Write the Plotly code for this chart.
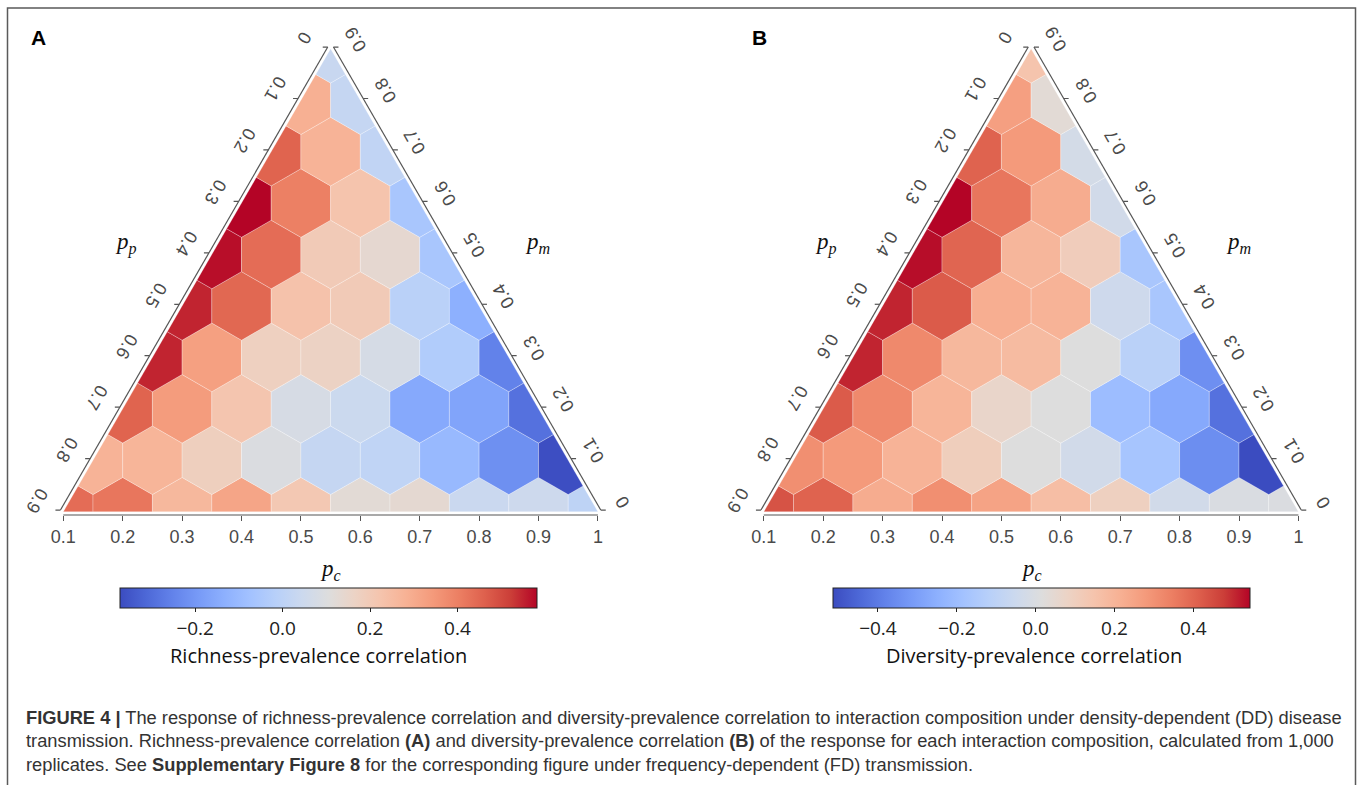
import math
import plotly.graph_objects as go
from plotly.colors import sample_colorscale

# ----------------------------- data -----------------------------
PC_TICKS = [0.1, 0.2, 0.3, 0.4, 0.5, 0.6, 0.7, 0.8, 0.9, 1.0]
PC_TICKTEXT = ["0.1", "0.2", "0.3", "0.4", "0.5", "0.6", "0.7", "0.8", "0.9", "1"]
PP_TICKS = [0.0, 0.1, 0.2, 0.3, 0.4, 0.5, 0.6, 0.7, 0.8, 0.9]
PP_TICKTEXT = ["0", "0.1", "0.2", "0.3", "0.4", "0.5", "0.6", "0.7", "0.8", "0.9"]
PM_TICKS = [0.0, 0.1, 0.2, 0.3, 0.4, 0.5, 0.6, 0.7, 0.8, 0.9]
PM_TICKTEXT = ["0", "0.1", "0.2", "0.3", "0.4", "0.5", "0.6", "0.7", "0.8", "0.9"]

# Richness-prevalence correlation; one list per p_m level, left to right = increasing p_c
RICH_PM0 = [0.439, 0.420, 0.262, 0.315, 0.210, 0.124, 0.134, 0.038, 0.048, 0.005]
RICH_PM1 = [0.277, 0.272, 0.181, 0.095, 0.024, 0.010, -0.105, -0.219, -0.367]
RICH_PM2 = [0.456, 0.339, 0.219, 0.081, 0.043, -0.153, -0.167, -0.291]
RICH_PM3 = [0.549, 0.329, 0.177, 0.167, 0.076, -0.033, -0.253]
RICH_PM4 = [0.549, 0.448, 0.229, 0.200, -0.009, -0.133]
RICH_PM5 = [0.572, 0.439, 0.200, 0.138, -0.057]
RICH_PM6 = [0.582, 0.401, 0.224, -0.057]
RICH_PM7 = [0.456, 0.277, 0.014]
RICH_PM8 = [0.286, 0.024]
RICH_PM9 = [0.033]

# Diversity-prevalence correlation; same layout
DIV_PM0 = [0.438, 0.406, 0.227, 0.306, 0.253, 0.168, 0.094, -0.033, 0.000, 0.004]
DIV_PM1 = [0.306, 0.280, 0.205, 0.105, 0.015, -0.033, -0.170, -0.350, -0.514]
DIV_PM2 = [0.422, 0.322, 0.200, 0.068, 0.015, -0.202, -0.271, -0.424]
DIV_PM3 = [0.507, 0.322, 0.190, 0.179, 0.015, -0.112, -0.345]
DIV_PM4 = [0.507, 0.422, 0.221, 0.205, -0.043, -0.165]
DIV_PM5 = [0.534, 0.401, 0.195, 0.110, -0.165]
DIV_PM6 = [0.544, 0.364, 0.227, -0.033]
DIV_PM7 = [0.406, 0.280, -0.022]
DIV_PM8 = [0.264, 0.036]
DIV_PM9 = [0.147]

RICH_RANGE = [-0.372, 0.582]
DIV_RANGE = [-0.514, 0.544]
RICH_CB_TICKS = [-0.2, 0.0, 0.2, 0.4]
RICH_CB_TEXT = ["\u22120.2", "0.0", "0.2", "0.4"]
DIV_CB_TICKS = [-0.4, -0.2, 0.0, 0.2, 0.4]
DIV_CB_TEXT = ["\u22120.4", "\u22120.2", "0.0", "0.2", "0.4"]

RICH_TITLE = "Richness-prevalence correlation"
DIV_TITLE = "Diversity-prevalence correlation"

# matplotlib "coolwarm" colormap
COOLWARM = [
    [0.0, "rgb(59,76,192)"], [0.0625, "rgb(77,104,215)"], [0.125, "rgb(98,130,234)"],
    [0.1875, "rgb(119,154,247)"], [0.25, "rgb(141,176,254)"], [0.3125, "rgb(163,194,255)"],
    [0.375, "rgb(184,208,249)"], [0.4375, "rgb(204,217,238)"], [0.5, "rgb(221,221,221)"],
    [0.5625, "rgb(236,211,197)"], [0.625, "rgb(245,196,173)"], [0.6875, "rgb(247,177,148)"],
    [0.75, "rgb(244,154,123)"], [0.8125, "rgb(236,127,99)"], [0.875, "rgb(222,96,77)"],
    [0.9375, "rgb(203,62,56)"], [1.0, "rgb(180,4,38)"],
]

# ----------------------------- layout constants -----------------------------
W, H = 1358, 785
S = 594.0            # pixels per composition unit
Y0 = 511.7           # pixel row of triangle base
XR = [0.0, 1.1]
YR = [-0.13, 0.83]
SQ3 = math.sqrt(3.0)
HEX_W = 0.1
HEX_R = HEX_W / SQ3
GAP = 3.3 / S
STUB = 5.0 / S
AXIS_COL = "#555555"
LABEL_COL = "#4a4a4a"
TICK_FONT = dict(family="Liberation Sans, Arial, sans-serif", size=18, color=LABEL_COL)
MATH_FONT = dict(family="Liberation Serif, Times New Roman, serif", size=23, color="#111111")


def to_xy(pc, pm):
    return pc + pm / 2.0, pm * SQ3 / 2.0


TRI = [to_xy(0.1, 0.0), to_xy(1.0, 0.0), to_xy(0.1, 0.9)]


def clip_poly(poly, clip):
    out = list(poly)
    n = len(clip)
    for i in range(n):
        A = clip[i]
        B = clip[(i + 1) % n]
        inp, out = out, []
        if not inp:
            break

        def inside(P):
            return (B[0] - A[0]) * (P[1] - A[1]) - (B[1] - A[1]) * (P[0] - A[0]) >= -1e-12

        def inter(P, Q):
            dx, dy = Q[0] - P[0], Q[1] - P[1]
            ex, ey = B[0] - A[0], B[1] - A[1]
            den = dx * ey - dy * ex
            t = ((A[0] - P[0]) * ey - (A[1] - P[1]) * ex) / den
            return (P[0] + t * dx, P[1] + t * dy)

        Sp = inp[-1]
        for E in inp:
            if inside(E):
                if not inside(Sp):
                    out.append(inter(Sp, E))
                out.append(E)
            elif inside(Sp):
                out.append(inter(Sp, E))
            Sp = E
    return out


def hexagon(cx, cy):
    pts = []
    for a in (90, 150, 210, 270, 330, 30):
        r = math.radians(a)
        pts.append((cx + HEX_R * math.cos(r), cy + HEX_R * math.sin(r)))
    return pts


PANELS = [
    dict(rows=[RICH_PM0, RICH_PM1, RICH_PM2, RICH_PM3, RICH_PM4, RICH_PM5, RICH_PM6, RICH_PM7, RICH_PM8, RICH_PM9],
         rng=RICH_RANGE, cbt=RICH_CB_TICKS, cbtx=RICH_CB_TEXT, title=RICH_TITLE, letter="A",
         x0=63.3, cb_x=328.5, title_x=318.0, letter_x=38.5),
    dict(rows=[DIV_PM0, DIV_PM1, DIV_PM2, DIV_PM3, DIV_PM4, DIV_PM5, DIV_PM6, DIV_PM7, DIV_PM8, DIV_PM9],
         rng=DIV_RANGE, cbt=DIV_CB_TICKS, cbtx=DIV_CB_TEXT, title=DIV_TITLE, letter="B",
         x0=763.8, cb_x=1041.5, title_x=1034.0, letter_x=759.0),
]

fig = go.Figure()
annotations = []
layout_axes = {}

for pi, P in enumerate(PANELS):
    sfx = "" if pi == 0 else str(pi + 1)
    xref, yref = "x" + sfx, "y" + sfx
    vmin, vmax = P["rng"]

    # axes / domains
    left_px = P["x0"] + (XR[0] - 0.1) * S
    right_px = P["x0"] + (XR[1] - 0.1) * S
    bot_px = Y0 - YR[0] * S
    top_px = Y0 - YR[1] * S
    layout_axes["xaxis" + sfx] = dict(
        domain=[left_px / W, min(right_px / W, 1.0)], range=XR, anchor="free",
        position=1 - (Y0 + GAP * S) / H,
        tickmode="array", tickvals=PC_TICKS, ticktext=PC_TICKTEXT,
        ticks="outside", ticklen=5, tickwidth=1.2, tickcolor=AXIS_COL,
        tickfont=TICK_FONT, showgrid=False, zeroline=False, showline=False,
        fixedrange=True,
    )
    layout_axes["yaxis" + sfx] = dict(
        domain=[1 - bot_px / H, 1 - top_px / H], range=YR, visible=False, fixedrange=True,
    )

    # hexes
    cxs, cys, vals = [], [], []
    for k, row in enumerate(P["rows"]):
        pm = 0.1 * k
        for j, v in enumerate(row):
            pc = 0.1 + 0.1 * j
            cx, cy = to_xy(pc, pm)
            poly = clip_poly(hexagon(cx, cy), TRI)
            frac = (v - vmin) / (vmax - vmin)
            frac = min(max(frac, 0.0), 1.0)
            col = sample_colorscale(COOLWARM, [frac])[0]
            xs = [p[0] for p in poly] + [poly[0][0]]
            ys = [p[1] for p in poly] + [poly[0][1]]
            fig.add_trace(go.Scatter(
                x=xs, y=ys, mode="lines", fill="toself", fillcolor=col,
                line=dict(color="rgba(255,255,255,0.45)", width=0.6),
                hoverinfo="skip", showlegend=False, xaxis=xref, yaxis=yref,
            ))
            cxs.append(cx)
            cys.append(cy)
            vals.append(v)

    # colorbar carrier (invisible markers at hex centres)
    fig.add_trace(go.Scatter(
        x=cxs, y=cys, mode="markers", xaxis=xref, yaxis=yref, showlegend=False,
        hoverinfo="skip",
        marker=dict(size=1, opacity=0, color=vals, colorscale=COOLWARM, cmin=vmin, cmax=vmax,
                    showscale=True, line=dict(width=0),
                    colorbar=dict(orientation="h", x=P["cb_x"] / W, xanchor="center",
                                  y=1 - 588.0 / H, yanchor="top", len=417.0 / W,
                                  lenmode="fraction", thickness=20, xpad=0, ypad=0,
                                  outlinewidth=1, outlinecolor="#222222",
                                  tickmode="array", tickvals=P["cbt"], ticktext=P["cbtx"],
                                  ticks="outside", ticklen=4, tickcolor="#222222",
                                  tickfont=dict(family="Open Sans, sans-serif", size=19,
                                                color="#222222"))),
    ))

    # side axes (p_p on the left, p_m on the right) and bottom base line
    T = TRI[2]
    BL = TRI[0]
    BR = TRI[1]
    nL = (-SQ3 / 2.0, 0.5)
    nR = (SQ3 / 2.0, 0.5)
    lx, ly = [], []
    lx += [T[0] + GAP * nL[0], BL[0] + GAP * nL[0], None]
    ly += [T[1] + GAP * nL[1], BL[1] + GAP * nL[1], None]
    lx += [T[0] + GAP * nR[0], BR[0] + GAP * nR[0], None]
    ly += [T[1] + GAP * nR[1], BR[1] + GAP * nR[1], None]
    lx += [PC_TICKS[0], PC_TICKS[-1], None]
    ly += [-GAP, -GAP, None]
    for v, t in zip(PP_TICKS, PP_TICKTEXT):
        ex, ey = to_xy(0.1, 0.9 - v)
        px_, py_ = ex + GAP * nL[0], ey + GAP * nL[1]
        lx += [px_, px_ - STUB, None]
        ly += [py_, py_, None]
        annotations.append(dict(x=ex - 26.0 / S, y=ey + 11.0 / S, xref=xref, yref=yref,
                                text=t, showarrow=False, textangle=120,
                                xanchor="center", yanchor="middle", font=TICK_FONT))
    for v, t in zip(PM_TICKS, PM_TICKTEXT):
        ex, ey = to_xy(1.0 - v, v)
        px_, py_ = ex + GAP * nR[0], ey + GAP * nR[1]
        lx += [px_, px_ + STUB, None]
        ly += [py_, py_, None]
        annotations.append(dict(x=ex + 25.0 / S, y=ey + 9.5 / S, xref=xref, yref=yref,
                                text=t, showarrow=False, textangle=-120,
                                xanchor="center", yanchor="middle", font=TICK_FONT))
    fig.add_trace(go.Scatter(x=lx, y=ly, mode="lines", line=dict(color=AXIS_COL, width=1.2),
                             hoverinfo="skip", showlegend=False, xaxis=xref, yaxis=yref))

    # axis titles
    annotations.append(dict(x=T[0] - 205.0 / S, y=(Y0 - 243.0) / S, xref=xref, yref=yref,
                            text="<i>p</i><sub><i>p</i></sub>", showarrow=False,
                            font=MATH_FONT))
    annotations.append(dict(x=T[0] + 207.0 / S, y=(Y0 - 243.0) / S, xref=xref, yref=yref,
                            text="<i>p</i><sub><i>m</i></sub>", showarrow=False,
                            font=MATH_FONT))
    annotations.append(dict(x=T[0], y=(Y0 - 570.0) / S, xref=xref, yref=yref,
                            text="<i>p</i><sub><i>c</i></sub>", showarrow=False,
                            font=MATH_FONT))

    # colorbar title and panel letter
    annotations.append(dict(x=P["title_x"] / W, y=1 - 655.0 / H, xref="paper", yref="paper",
                            text=P["title"], showarrow=False, xanchor="center", yanchor="middle",
                            font=dict(family="Open Sans, sans-serif", size=20, color="#111111")))
    annotations.append(dict(x=P["letter_x"] / W, y=1 - 38.0 / H, xref="paper", yref="paper",
                            text="<b>" + P["letter"] + "</b>", showarrow=False,
                            xanchor="center", yanchor="middle",
                            font=dict(family="Liberation Sans, Arial, sans-serif", size=21,
                                      color="#000000")))

# caption
CAPTION = [
    "<b>FIGURE 4 |</b> The response of richness-prevalence correlation and diversity-prevalence "
    "correlation to interaction composition under density-dependent (DD) disease",
    "transmission. Richness-prevalence correlation <b>(A)</b> and diversity-prevalence correlation "
    "<b>(B)</b> of the response for each interaction composition, calculated from 1,000",
    "replicates. See <b>Supplementary Figure 8</b> for the corresponding figure under "
    "frequency-dependent (FD) transmission.",
]
for i, line in enumerate(CAPTION):
    annotations.append(dict(x=24.0 / W, y=1 - (717.0 + 23.5 * i) / H, xref="paper", yref="paper",
                            text=line, showarrow=False, xanchor="left", yanchor="middle",
                            font=dict(family="Liberation Sans, Arial, sans-serif", size=18.3,
                                      color="#333333")))

fig.update_layout(
    width=W, height=H, margin=dict(l=0, r=0, t=0, b=0),
    paper_bgcolor="white", plot_bgcolor="rgba(0,0,0,0)",
    annotations=annotations,
    shapes=[dict(type="rect", xref="paper", yref="paper", x0=7.5 / W, x1=1355.5 / W,
                 y0=-0.05, y1=1 - 8.0 / H, line=dict(color="#5a5a5a", width=1.5))],
    **layout_axes,
)

fig.write_html("out.html", config={"displayModeBar": False},
               post_script="document.body.style.margin='0px';")
